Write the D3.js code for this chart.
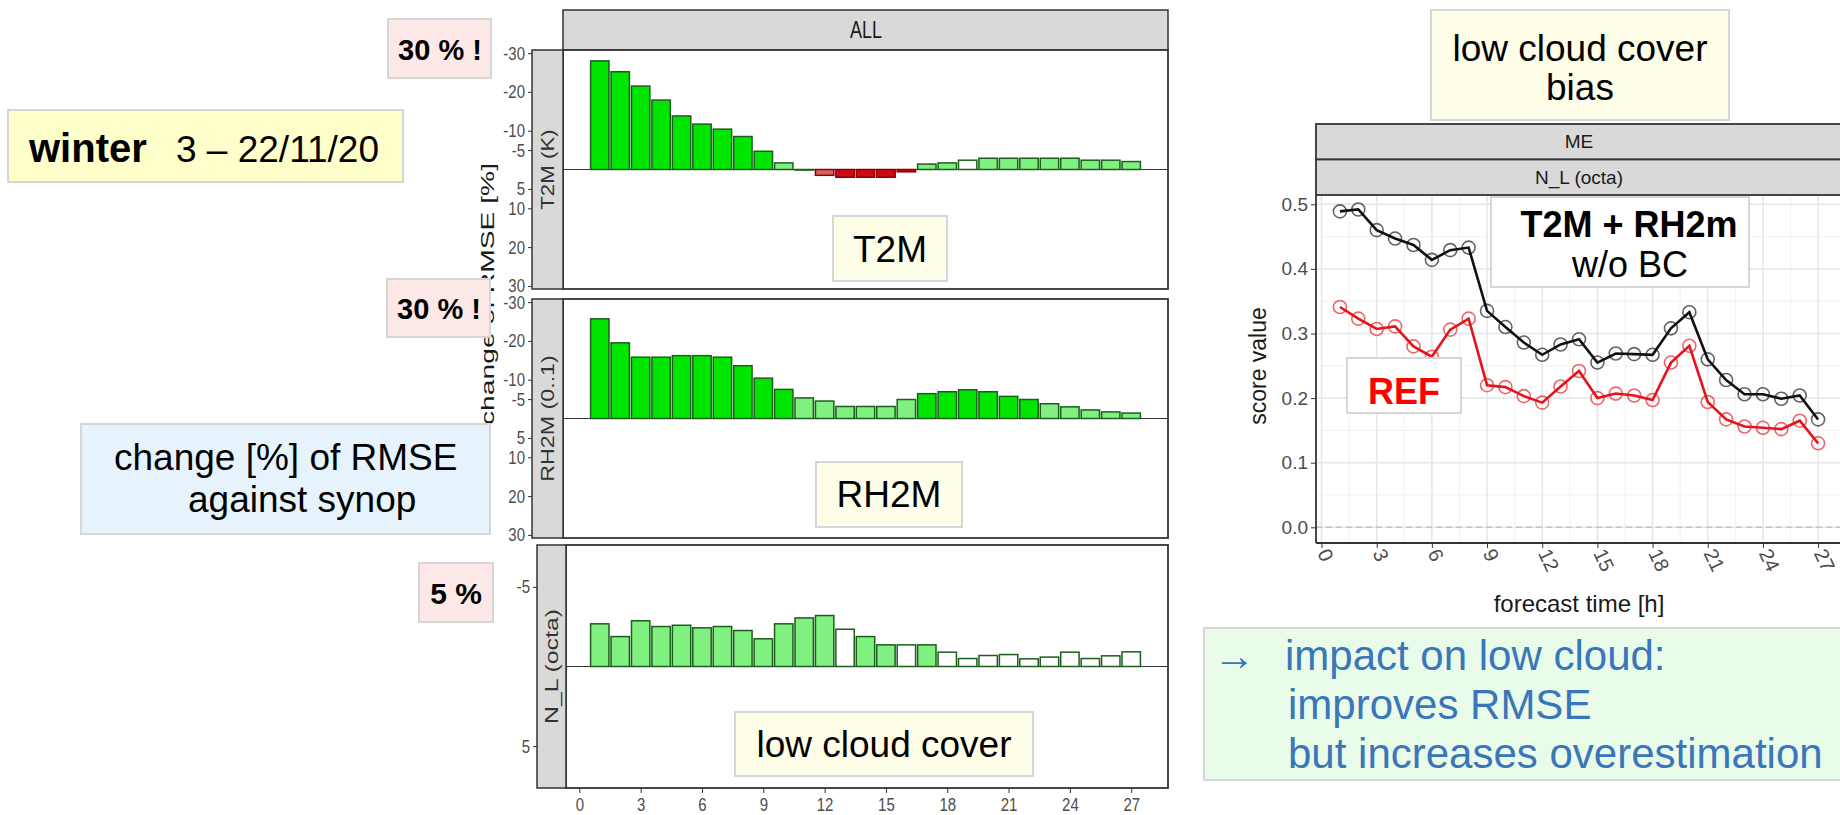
<!DOCTYPE html>
<html>
<head>
<meta charset="utf-8">
<script src="https://cdn.jsdelivr.net/npm/d3@7"></script>
<style>
  body { margin: 0; background: #fff; }
  svg { display: block; font-family: "Liberation Sans", Arial, sans-serif; }
</style>
</head>
<body>
<div id="chart"></div>
<script>
// forecast hours of the bars / points
const hours = [1, 2, 3, 4, 5, 6, 7, 8, 9, 10, 11, 12, 13, 14, 15, 16, 17, 18, 19, 20, 21, 22, 23, 24, 25, 26, 27];

// change [%] of RMSE (negative = improvement, drawn upwards)
const t2mChange = [-28.0, -25.2, -21.5, -17.9, -13.8, -11.7, -10.4, -8.5, -4.7, -1.7, 0.15, 1.5, 2.0, 2.0, 2.0, 0.6,
  -1.4, -1.7, -2.4, -2.9, -2.9, -2.9, -2.9, -2.9, -2.4, -2.4, -2.05];
const rh2mChange = [-25.7, -19.5, -15.8, -15.8, -16.2, -16.2, -15.8, -13.6, -10.4, -7.5, -5.3, -4.5, -3.1, -3.1, -3.1, -4.9,
  -6.4, -6.9, -7.4, -6.9, -5.7, -4.9, -3.8, -3.0, -2.2, -1.7, -1.4];
const nlChange = [-2.68, -1.88, -2.87, -2.51, -2.59, -2.43, -2.51, -2.26, -1.74, -2.68, -3.05, -3.20, -2.34, -1.88, -1.36, -1.36,
  -1.36, -0.90, -0.50, -0.69, -0.75, -0.48, -0.59, -0.90, -0.50, -0.67, -0.92];

// significance class per bar: G strong better, g better, w none, r worse, R strong worse
const t2mSig = ['G','G','G','G','G','G','G','G','G','g','w','r','R','R','R','R','g','g','w','g','g','g','g','g','g','g','g'];
const rh2mSig = ['G','G','G','G','G','G','G','G','G','G','g','g','g','g','g','g','G','G','G','G','G','G','g','g','g','g','g'];
const nlSig = ['g','g','g','g','g','g','g','g','g','g','g','g','w','g','g','w','g','w','w','w','w','w','w','w','w','w','w'];

// mean error of low cloud cover (octa)
const meExp = [0.489, 0.492, 0.460, 0.447, 0.437, 0.414, 0.429, 0.433, 0.335, 0.310, 0.286, 0.267, 0.283, 0.291,
  0.255, 0.269, 0.268, 0.267, 0.308, 0.333, 0.260, 0.228, 0.206, 0.206, 0.199, 0.204, 0.167];
const meRef = [0.341, 0.323, 0.307, 0.311, 0.280, 0.264, 0.306, 0.323, 0.220, 0.217, 0.203, 0.193, 0.218, 0.242,
  0.200, 0.207, 0.204, 0.197, 0.255, 0.281, 0.194, 0.167, 0.156, 0.154, 0.152, 0.165, 0.130];

// tick labels
const hourTicks = [0, 3, 6, 9, 12, 15, 18, 21, 24, 27];
const pctTicks = [-30, -20, -10, -5, 5, 10, 20, 30];
const nlTicks = [-5, 5];
const scoreTicks = [0.0, 0.1, 0.2, 0.3, 0.4, 0.5];

const fillOf = { G: '#00e600', g: '#80f080', w: '#ffffff', r: '#d46464', R: '#cc0a14' };
const strokeOf = { G: '#1d5e1d', g: '#1d5e1d', w: '#1d5e1d', r: '#8b0000', R: '#8b0000' };

const svg = d3.select('#chart').append('svg')
  .attr('width', 1840).attr('height', 815);

// ---------- left: change of RMSE bars ----------
const xL = d3.scaleLinear().domain([-0.8, 28.8]).range([563, 1168]);
const bw = xL(0.9) - xL(0);
const stretch = 1.25;

const facets = [
  { strip: 'T2M (K)', values: t2mChange, sig: t2mSig, ticks: pctTicks, lim: 30.8, top: 50, bottom: 289, sx: 532, left: 563 },
  { strip: 'RH2M (0..1)', values: rh2mChange, sig: rh2mSig, ticks: pctTicks, lim: 30.8, top: 299, bottom: 538, sx: 532, left: 563 },
  { strip: 'N_L (octa)', values: nlChange, sig: nlSig, ticks: nlTicks, lim: 7.63, top: 545, bottom: 788, sx: 537, left: 566 }
];

// "ALL" strip
svg.append('rect').attr('x', 563).attr('y', 10).attr('width', 605).attr('height', 40)
  .attr('fill', '#d9d9d9').attr('stroke', '#333').attr('stroke-width', 1.5);
svg.append('text').attr('transform', `translate(866,30) scale(1,1.3)`)
  .attr('text-anchor', 'middle').attr('dy', '0.35em').attr('font-size', 18).attr('fill', '#1a1a1a').text('ALL');

facets.forEach(f => {
  const y = d3.scaleLinear().domain([-f.lim, f.lim]).range([f.top, f.bottom]);
  const g = svg.append('g');
  g.append('rect').attr('x', f.left).attr('y', f.top).attr('width', 1168 - f.left).attr('height', f.bottom - f.top)
    .attr('fill', '#fff');

  g.append('line').attr('x1', f.left).attr('x2', 1168).attr('y1', y(0)).attr('y2', y(0))
    .attr('stroke', '#333').attr('stroke-width', 1.2);

  g.selectAll('rect.bar').data(hours).join('rect').attr('class', 'bar')
    .attr('x', (h) => xL(h) - bw / 2)
    .attr('y', (h, i) => Math.min(y(f.values[i]), y(0)))
    .attr('width', bw)
    .attr('height', (h, i) => Math.abs(y(f.values[i]) - y(0)))
    .attr('fill', (h, i) => fillOf[f.sig[i]])
    .attr('stroke', (h, i) => strokeOf[f.sig[i]])
    .attr('stroke-width', 1.5);

  g.append('rect').attr('x', f.left).attr('y', f.top).attr('width', 1168 - f.left).attr('height', f.bottom - f.top)
    .attr('fill', 'none').attr('stroke', '#333').attr('stroke-width', 1.8);

  // strip on the left side
  g.append('rect').attr('x', f.sx).attr('y', f.top).attr('width', f.left - f.sx).attr('height', f.bottom - f.top)
    .attr('fill', '#d9d9d9').attr('stroke', '#333').attr('stroke-width', 1.5);
  g.append('text')
    .attr('transform', `translate(${(f.sx + f.left) / 2},${(f.top + f.bottom) / 2}) rotate(-90)`)
    .attr('text-anchor', 'middle').attr('dy', '0.35em').attr('font-size', 18).attr('fill', '#333')
    .attr('textLength', f.strip.length * 11.5).attr('lengthAdjust', 'spacingAndGlyphs')
    .text(f.strip);

  const ax = g.append('g').attr('transform', `translate(${f.sx},0)`)
    .call(d3.axisLeft(y).tickValues(f.ticks).tickSize(4).tickFormat(d => String(d)));
  ax.select('.domain').remove();
  ax.selectAll('line').attr('stroke', '#333');
  ax.selectAll('text').attr('font-size', 15).attr('fill', '#4d4d4d')
    .attr('font-family', '"Liberation Sans", Arial, sans-serif')
    .attr('transform', `scale(1,${stretch})`);
});

const axB = svg.append('g').attr('transform', 'translate(0,788)')
  .call(d3.axisBottom(xL).tickValues(hourTicks).tickSize(5));
axB.select('.domain').remove();
axB.selectAll('line').attr('stroke', '#333');
axB.selectAll('text').attr('font-size', 15).attr('fill', '#4d4d4d')
  .attr('font-family', '"Liberation Sans", Arial, sans-serif')
  .attr('y', 0).attr('dy', 0)
  .attr('transform', `translate(0,23) scale(1,1.2)`);

svg.append('text').attr('transform', 'translate(487,294) rotate(-90)')
  .attr('text-anchor', 'middle').attr('dy', '0.35em').attr('font-size', 19).attr('fill', '#1a1a1a')
  .attr('textLength', 262).attr('lengthAdjust', 'spacingAndGlyphs')
  .text('change of RMSE [%]');

// ---------- right: mean error lines ----------
const xR = d3.scaleLinear().domain([-0.3, 28.3]).range([1316, 1842]);
const yR = d3.scaleLinear().domain([0, 0.5]).range([527.3, 204.3]);
const pTop = 195, pBottom = 543, pLeft = 1316, pRight = 1842;

const rg = svg.append('g');
rg.append('rect').attr('x', pLeft).attr('y', pTop).attr('width', pRight - pLeft).attr('height', pBottom - pTop)
  .attr('fill', '#fff');

const minorX = hourTicks.map(d => d + 1.5);
const minorY = [0.05, 0.15, 0.25, 0.35, 0.45];
rg.selectAll('line.mx').data(minorX).join('line').attr('class', 'mx')
  .attr('x1', d => xR(d)).attr('x2', d => xR(d)).attr('y1', pTop).attr('y2', pBottom)
  .attr('stroke', '#f2f2f2').attr('stroke-width', 1);
rg.selectAll('line.my').data(minorY).join('line').attr('class', 'my')
  .attr('x1', pLeft).attr('x2', pRight).attr('y1', d => yR(d)).attr('y2', d => yR(d))
  .attr('stroke', '#f2f2f2').attr('stroke-width', 1);
rg.selectAll('line.gx').data(hourTicks).join('line').attr('class', 'gx')
  .attr('x1', d => xR(d)).attr('x2', d => xR(d)).attr('y1', pTop).attr('y2', pBottom)
  .attr('stroke', '#e6e6e6').attr('stroke-width', 1.5);
rg.selectAll('line.gy').data(scoreTicks).join('line').attr('class', 'gy')
  .attr('x1', pLeft).attr('x2', pRight).attr('y1', d => yR(d)).attr('y2', d => yR(d))
  .attr('stroke', '#e6e6e6').attr('stroke-width', 1.5);

rg.append('line').attr('x1', pLeft).attr('x2', pRight).attr('y1', yR(0)).attr('y2', yR(0))
  .attr('stroke', '#c4c4c4').attr('stroke-width', 1.5).attr('stroke-dasharray', '6,4');

const series = [
  { values: meRef, color: '#e4141c' },
  { values: meExp, color: '#111111' }
];
const line = d3.line().x((d, i) => xR(hours[i])).y(d => yR(d));
series.forEach(s => {
  rg.append('path').datum(s.values).attr('d', line)
    .attr('fill', 'none').attr('stroke', s.color).attr('stroke-width', 2.6);
  rg.selectAll(null).data(s.values).join('circle')
    .attr('cx', (d, i) => xR(hours[i])).attr('cy', d => yR(d)).attr('r', 6.5)
    .attr('fill', 'none').attr('stroke', s.color).attr('stroke-opacity', 0.65).attr('stroke-width', 1.6);
});

rg.append('line').attr('x1', pLeft).attr('x2', pLeft).attr('y1', pTop).attr('y2', pBottom)
  .attr('stroke', '#333').attr('stroke-width', 1.8);
rg.append('line').attr('x1', pLeft).attr('x2', pRight).attr('y1', pBottom).attr('y2', pBottom)
  .attr('stroke', '#333').attr('stroke-width', 2);

[['ME', 124, 159.5], ['N_L (octa)', 159.5, 195]].forEach(([label, y0, y1]) => {
  rg.append('rect').attr('x', pLeft).attr('y', y0).attr('width', pRight - pLeft).attr('height', y1 - y0)
    .attr('fill', '#d9d9d9').attr('stroke', '#333').attr('stroke-width', 1.8);
  rg.append('text').attr('x', (pLeft + pRight) / 2).attr('y', (y0 + y1) / 2).attr('dy', '0.35em')
    .attr('text-anchor', 'middle').attr('font-size', 19).attr('fill', '#1a1a1a').text(label);
});

const ayR = rg.append('g').attr('transform', `translate(${pLeft},0)`)
  .call(d3.axisLeft(yR).tickValues(scoreTicks).tickSize(5).tickFormat(d3.format('.1f')));
ayR.select('.domain').remove();
ayR.selectAll('line').attr('stroke', '#333');
ayR.selectAll('text').attr('font-size', 19).attr('fill', '#4d4d4d')
  .attr('font-family', '"Liberation Sans", Arial, sans-serif');

const axR = rg.append('g').attr('transform', `translate(0,${pBottom})`)
  .call(d3.axisBottom(xR).tickValues(hourTicks).tickSize(5));
axR.select('.domain').remove();
axR.selectAll('line').attr('stroke', '#333');
axR.selectAll('text').attr('font-size', 20).attr('fill', '#4d4d4d')
  .attr('font-family', '"Liberation Sans", Arial, sans-serif')
  .attr('x', 0).attr('y', 0).attr('dy', 0).attr('text-anchor', 'start')
  .attr('transform', 'translate(-5,10) rotate(65)');

rg.append('text').attr('x', 1579).attr('y', 612).attr('text-anchor', 'middle')
  .attr('font-size', 24).attr('fill', '#1a1a1a').text('forecast time [h]');
rg.append('text').attr('transform', 'translate(1258,366) rotate(-90)').attr('text-anchor', 'middle')
  .attr('dy', '0.35em').attr('font-size', 23).attr('fill', '#1a1a1a').text('score value');

// ---------- annotation boxes ----------
function box(x, y, w, h, fill) {
  svg.append('rect').attr('x', x).attr('y', y).attr('width', w).attr('height', h)
    .attr('fill', fill).attr('stroke', '#d6d6d6').attr('stroke-width', 2);
}
function label(x, y, str, size, opts = {}) {
  return svg.append('text').attr('x', x).attr('y', y).attr('font-size', size)
    .attr('text-anchor', opts.anchor || 'middle')
    .attr('font-weight', opts.bold ? 'bold' : null)
    .attr('fill', opts.color || '#000')
    .text(str);
}

box(8, 110, 395, 72, '#ffffcc');
label(29, 162, 'winter', 40, { anchor: 'start', bold: true });
label(176, 162, '3 – 22/11/20', 37, { anchor: 'start' });

box(388, 19, 103, 59, '#fde8e8');
label(440, 60, '30 % !', 29, { bold: true });
box(387, 279, 103, 58, '#fde8e8');
label(439, 319, '30 % !', 29, { bold: true });
box(419, 563, 74, 59, '#fde8e8');
label(456, 604, '5 %', 30, { bold: true });

box(81, 424, 409, 110, '#e6f3fc');
label(114, 470, 'change [%] of RMSE', 37, { anchor: 'start' });
label(188, 512, 'against synop', 37, { anchor: 'start' });

box(833, 216, 114, 65, '#fdfde8');
label(890, 262, 'T2M', 37);
box(816, 462, 146, 65, '#fdfde8');
label(889, 507, 'RH2M', 37);
box(735, 712, 298, 64, '#fdfde8');
label(884, 757, 'low cloud cover', 37);

box(1431, 10, 298, 110, '#fdfde8');
label(1580, 61, 'low cloud cover', 37);
label(1580, 100, 'bias', 37);

box(1491, 197, 258, 90, '#ffffff');
label(1629, 237, 'T2M + RH2m', 36, { bold: true });
label(1630, 277, 'w/o BC', 36);

box(1347, 358, 114, 55, '#ffffff');
label(1404, 404, 'REF', 36, { bold: true, color: '#ff0000' });

box(1204, 628, 650, 152, '#e9fbe9');
const blue = '#3a76ba';
label(1213, 670, '→', 42, { anchor: 'start', color: blue });
label(1285, 670, 'impact on low cloud:', 42, { anchor: 'start', color: blue });
label(1288, 719, 'improves RMSE', 42, { anchor: 'start', color: blue });
label(1288, 768, 'but increases overestimation', 42, { anchor: 'start', color: blue });
</script>
</body>
</html>
